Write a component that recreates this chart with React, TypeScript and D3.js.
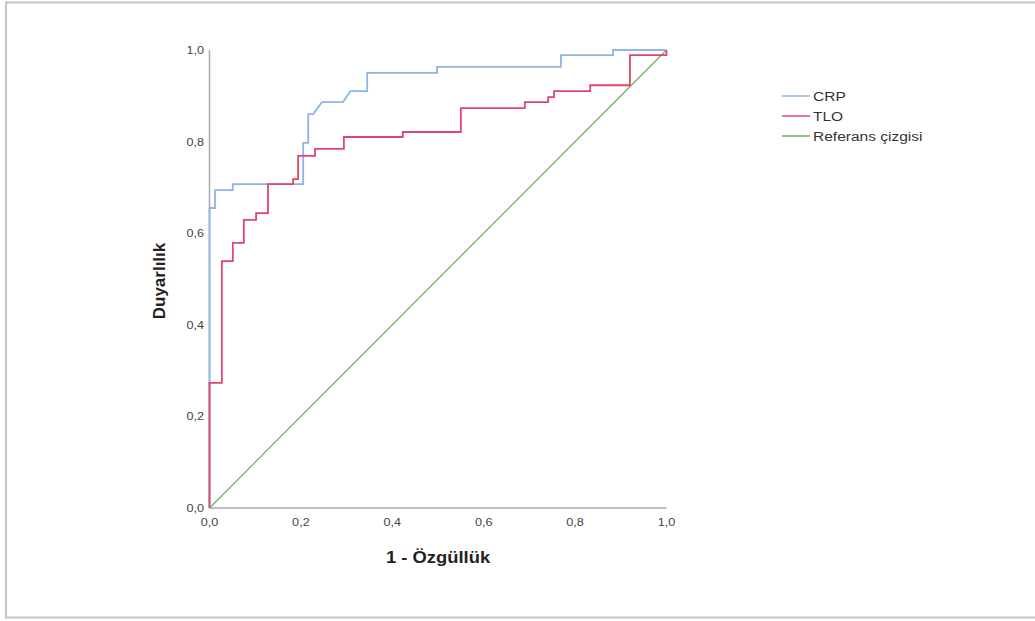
import React, { useRef, useEffect } from "react";
import * as d3 from "d3";

// ROC step points [1 - specificity, sensitivity]
const crpX = [0, 0, 0, 0.012, 0.012, 0.051, 0.051, 0.205, 0.205, 0.216, 0.216, 0.227, 0.246, 0.292, 0.308, 0.345, 0.345, 0.498, 0.498, 0.769, 0.769, 0.883, 0.883, 1.0];
const crpY = [0, 0.273, 0.655, 0.655, 0.694, 0.694, 0.707, 0.707, 0.797, 0.797, 0.86, 0.86, 0.886, 0.886, 0.91, 0.91, 0.95, 0.95, 0.963, 0.963, 0.989, 0.989, 1.0, 1.0];

const tloX = [0, 0, 0.027, 0.027, 0.051, 0.051, 0.075, 0.075, 0.102, 0.102, 0.128, 0.128, 0.183, 0.183, 0.194, 0.194, 0.231, 0.231, 0.294, 0.294, 0.423, 0.423, 0.55, 0.55, 0.69, 0.69, 0.741, 0.741, 0.754, 0.754, 0.833, 0.833, 0.92, 0.92, 1.0, 1.0];
const tloY = [0, 0.273, 0.273, 0.539, 0.539, 0.579, 0.579, 0.629, 0.629, 0.644, 0.644, 0.707, 0.707, 0.718, 0.718, 0.769, 0.769, 0.784, 0.784, 0.81, 0.81, 0.821, 0.821, 0.873, 0.873, 0.886, 0.886, 0.897, 0.897, 0.91, 0.91, 0.923, 0.923, 0.989, 0.989, 1.0];

const refX = [0, 1];
const refY = [0, 1];

const ticks = [0, 0.2, 0.4, 0.6, 0.8, 1.0];
const seriesNames = ["CRP", "TLO", "Referans çizgisi"];
const colors = ["#8fb4e8", "#e0456e", "#6ab55a"];

const App = () => {
  const svgRef = useRef<SVGSVGElement>(null);

  useEffect(() => {
    if (!svgRef.current) return;
    const svg = d3.select(svgRef.current);
    svg.selectAll("*").remove();

    const x = d3.scaleLinear().domain([0, 1]).range([209.5, 666.5]);
    const y = d3.scaleLinear().domain([0, 1]).range([508, 50]);
    const font = "Arial, 'Liberation Sans', sans-serif";
    const sx = 1.15; // the picture's text is a little wider than it is tall

    svg
      .append("rect")
      .attr("x", 6)
      .attr("y", 2.5)
      .attr("width", 1040)
      .attr("height", 615)
      .attr("fill", "white")
      .attr("stroke", "#c4c4c4")
      .attr("stroke-width", 2);

    // axes lines
    svg
      .append("line")
      .attr("x1", x(0))
      .attr("x2", x(0))
      .attr("y1", y(0))
      .attr("y2", y(1))
      .attr("stroke", "#aaaaaa")
      .attr("stroke-width", 1.5);
    svg
      .append("line")
      .attr("x1", x(0))
      .attr("x2", x(1))
      .attr("y1", y(0))
      .attr("y2", y(0))
      .attr("stroke", "#aaaaaa")
      .attr("stroke-width", 1.5);

    const fmt = (d: number) => d.toFixed(1).replace(".", ",");

    svg
      .append("g")
      .selectAll("text")
      .data(ticks)
      .join("text")
      .attr("transform", (d) => `translate(204,${y(d) + 4}) scale(${sx},1)`)
      .attr("text-anchor", "end")
      .attr("font-family", font)
      .attr("font-size", 11)
      .attr("fill", "#444")
      .text(fmt);

    svg
      .append("g")
      .selectAll("text")
      .data(ticks)
      .join("text")
      .attr("transform", (d) => `translate(${x(d)},526) scale(${sx},1)`)
      .attr("text-anchor", "middle")
      .attr("font-family", font)
      .attr("font-size", 11)
      .attr("fill", "#444")
      .text(fmt);

    svg
      .append("text")
      .attr("transform", `translate(${x(0.5)},563) scale(${sx},1)`)
      .attr("text-anchor", "middle")
      .attr("font-family", font)
      .attr("font-size", 16)
      .attr("font-weight", "bold")
      .attr("fill", "#222")
      .text("1 - Özgüllük");

    svg
      .append("text")
      .attr("transform", `translate(165,${y(0.5) + 2}) rotate(-90)`)
      .attr("text-anchor", "middle")
      .attr("font-family", font)
      .attr("font-size", 17)
      .attr("font-weight", "bold")
      .attr("fill", "#222")
      .text("Duyarlılık");

    const line = d3
      .line<[number, number]>()
      .x((d) => x(d[0]))
      .y((d) => y(d[1]));

    const series: [number, number][][] = [
      crpX.map((v, i) => [v, crpY[i]]),
      tloX.map((v, i) => [v, tloY[i]]),
      refX.map((v, i) => [v, refY[i]]),
    ];

    [2, 0, 1].forEach((i) => {
      svg
        .append("path")
        .attr("d", line(series[i]))
        .attr("fill", "none")
        .attr("stroke", colors[i])
        .attr("stroke-width", i === 2 ? 1.3 : 1.8);
    });

    const legend = svg
      .append("g")
      .selectAll("g")
      .data(seriesNames)
      .join("g")
      .attr("transform", (d, i) => `translate(782,${96 + i * 20})`);
    legend
      .append("line")
      .attr("x1", 0)
      .attr("x2", 28)
      .attr("stroke", (d, i) => colors[i])
      .attr("stroke-width", 1.5);
    legend
      .append("text")
      .attr("transform", `translate(31,5) scale(${sx},1)`)
      .attr("font-family", font)
      .attr("font-size", 13.5)
      .attr("fill", "#333")
      .text((d) => d);
  }, []);

  return (
    <svg
      ref={svgRef}
      width={1035}
      height={621}
      style={{ position: "absolute", left: 0, top: 0, background: "white" }}
    ></svg>
  );
};

export default App;
